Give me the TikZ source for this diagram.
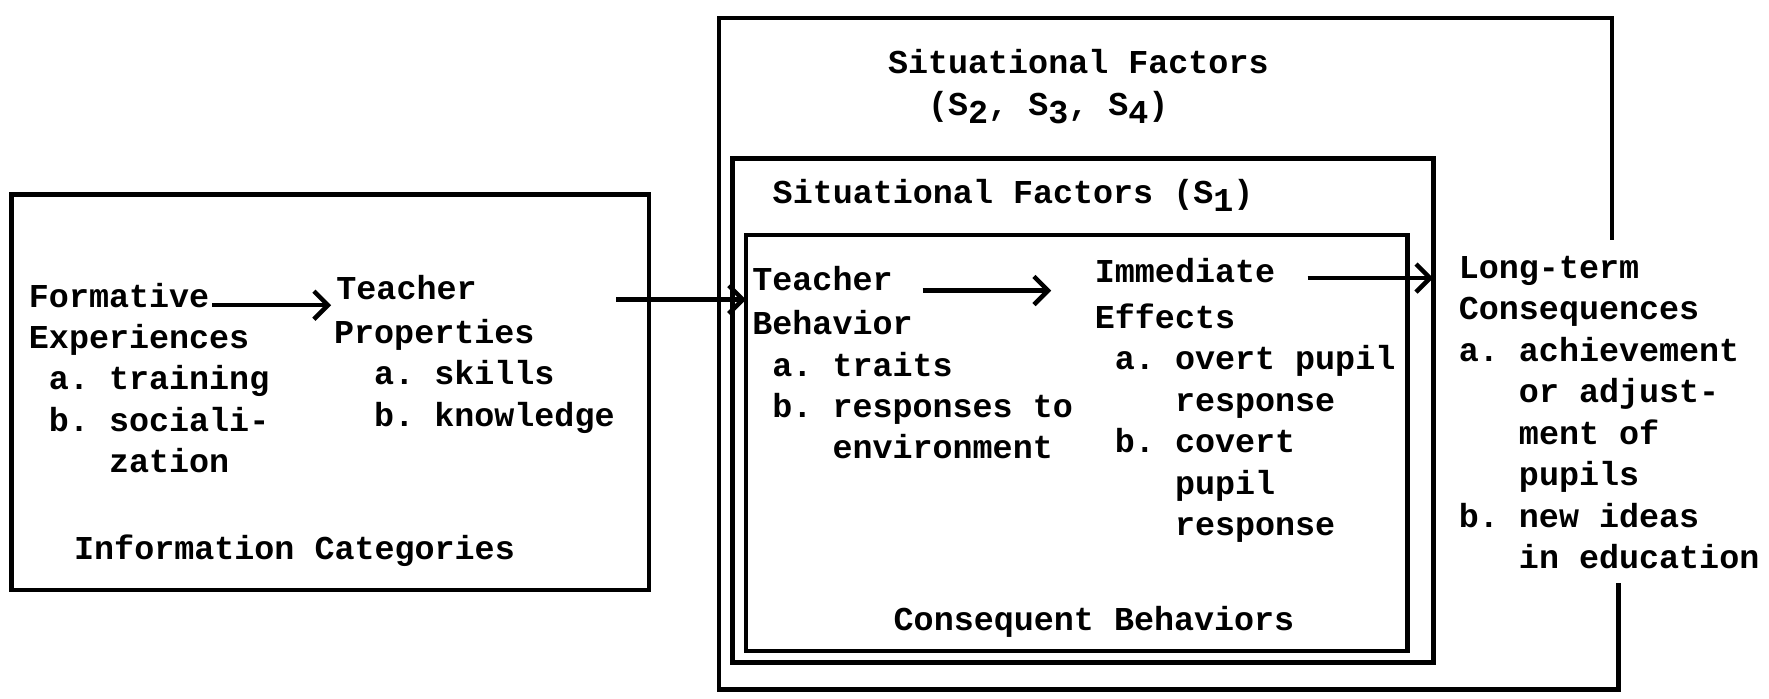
\documentclass[tikz,border=0pt]{standalone}
\usepackage{fontspec}
\setmonofont{Liberation Mono}
\usetikzlibrary{calc,arrows.meta}

\newcommand{\lowidx}[1]{\raisebox{-0.45ex}{#1}}

\begin{document}
\begin{tikzpicture}[x=0.0113cm, y=-0.0113cm,
    txt/.style ={font=\ttfamily\bfseries\fontsize{9.5}{11.8}\selectfont,
                 align=left, inner sep=0pt, anchor=base west},
    frame/.style ={line width=1.3pt},
    flow/.style ={line width=1.3pt, -{Straight Barb[length=4pt,width=8pt,line width=1.3pt]}}]
   \useasboundingbox (0,0) rectangle (1565,618);

   % box corners
   \coordinate (infoNW) at (10,172);
   \coordinate (infoSE) at (574,522);
   \coordinate (s1NW) at (648,140);
   \coordinate (s1SE) at (1268,586);
   \coordinate (behNW) at (660,208);
   \coordinate (behSE) at (1245,576);

   % boxes
   \draw[frame] (infoNW) rectangle (infoSE);
   \draw[frame] (1426,212) -- (1426,16) -- (636,16) -- (636,610) -- (1432,610) -- (1432,516);
   \draw[frame] (s1NW) rectangle (s1SE);
   \draw[frame] (behNW) rectangle (behSE);

   % information categories (multi-line nodes sit on their last line)
   \node[txt] (form) at (25,272) {Formative};
   \node[txt] (formList) at (25,418) {Experiences\\
      \hphantom{a}a. training\\
      \hphantom{a}b. sociali-\\
      \hphantom{aaaa}zation};
   \node[txt] (tprop) at (297,265) {Teacher};
   \node[txt] (tpropList) at (295,377) {Properties\\
      \hphantom{aa}a. skills\\
      \hphantom{aa}b. knowledge};
   \node[txt] (infoCat) at (65,495) {Information Categories};

   % situational factors
   \node[txt] (sOuter) at (785,102) {Situational Factors\\
      \hphantom{Si}(S\lowidx{2}, S\lowidx{3}, S\lowidx{4})};
   \node[txt] (sInner) at (683,180) {Situational Factors (S\lowidx{1})};

   % consequent behaviors
   \node[txt] (tbeh) at (665,257) {Teacher};
   \node[txt] (tbehList) at (665,406) {Behavior\\
      \hphantom{a}a. traits\\
      \hphantom{a}b. responses to\\
      \hphantom{aaaa}environment};
   \node[txt] (imm) at (968,250) {Immediate};
   \node[txt] (immList) at (968,474) {Effects\\
      \hphantom{a}a. overt pupil\\
      \hphantom{aaaa}response\\
      \hphantom{a}b. covert\\
      \hphantom{aaaa}pupil\\
      \hphantom{aaaa}response};
   \node[txt] (consBeh) at (790,558) {Consequent Behaviors};

   % long-term consequences
   \node[txt] (lterm) at (1290,503) {Long-term\\
      Consequences\\
      a. achievement\\
      \hphantom{aaa}or adjust-\\
      \hphantom{aaa}ment of\\
      \hphantom{aaa}pupils\\
      b. new ideas\\
      \hphantom{aaa}in education};

   % arrows
   \coordinate (infoOut) at (545,265);
   \draw[flow] ($(form.base east)+(2,-2)$) -- ($(form.base east -| tprop.west)+(-4,-2)$);
   \draw[flow] (infoOut) -- (infoOut -| behNW);
   \draw[flow] ($(tbeh.base east)+(26,0)$) -- ($(tbeh.base east -| imm.west)+(-38,0)$);
   \draw[flow] ($(imm.base east)+(28,-4)$) -- ($(imm.base east -| s1SE)+(0,-4)$);
\end{tikzpicture}
\end{document}
